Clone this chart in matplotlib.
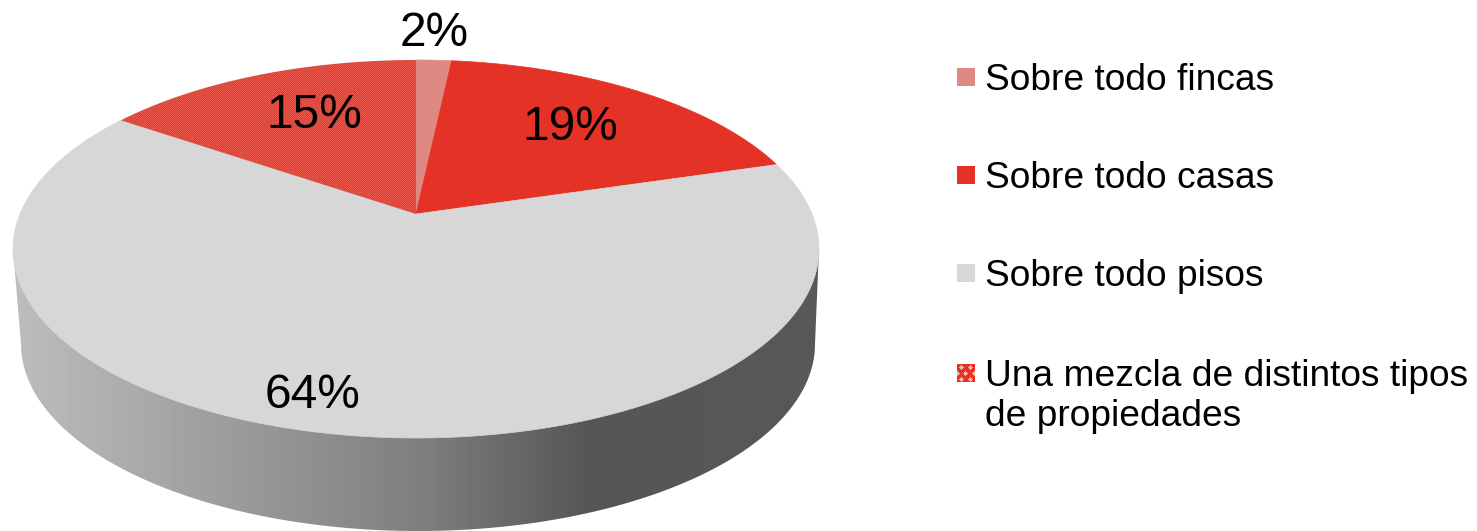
import numpy as np
import matplotlib
matplotlib.use("Agg")
import matplotlib.pyplot as plt
from matplotlib.patches import Polygon, Rectangle

plt.rcParams['font.family'] = ['Liberation Sans', 'DejaVu Sans']

categories = ["Sobre todo fincas", "Sobre todo casas", "Sobre todo pisos",
              "Una mezcla de distintos tipos\nde propiedades"]
values = [1.7, 18.7, 64.2, 15.4]
colors = ["#de8a82", "#e43226", "#d7d7d7", None]
label_xy = [(434, 33), (570, 128), (313, 395), (314, 116)]
legend_y = [77, 175, 273, 373]

W, H = 1477, 531
fig = plt.figure(figsize=(W / 100, H / 100), dpi=100)
ax = fig.add_axes([0, 0, 1, 1])
ax.set_xlim(0, W)
ax.set_ylim(H, 0)
ax.axis("off")

# perspective pie geometry (screen pixels)
cx, apex_y = 416, 214
back, front = 154, 224
rx = 403
k = (front - back) / (front + back)
a = 2 * back * front / (front + back)
b = rx * np.sqrt(1 - k ** 2)


def project(theta):
    x, y = np.sin(theta), np.cos(theta)
    w = 1 + k * y
    return cx + b * x / w, apex_y - a * y / w


# side wall
top_cy = 249
bot_cx, bot_cy, bot_rx, bot_ry = 418, 344, 397, 187
t = np.linspace(np.pi, 0, 300)
bx = bot_cx + bot_rx * np.cos(t)
by = bot_cy + bot_ry * np.sin(t)
side = np.vstack([[13, top_cy], np.column_stack([bx, by]), [819, top_cy]])
side_patch = Polygon(side, closed=True, transform=ax.transData, fc="none", ec="none")
ax.add_patch(side_patch)
xs = np.arange(W) + 0.5
grad = np.interp(xs, [13, 416, 590, 819], [0.74, 0.50, 0.335, 0.345])
im = ax.imshow(np.tile(grad, (H, 1)), cmap="gray", vmin=0, vmax=1,
               extent=(0, W, H, 0), aspect="auto", interpolation="nearest", zorder=1)
im.set_clip_path(side_patch)

# dithered fill for the last slice
yy, xx = np.mgrid[0:H, 0:W]
dither = np.zeros((H, W, 3))
dither[...] = np.array([0.89, 0.24, 0.18])
mask = (xx + yy) % 2 == 0
dither[mask] = np.array([0.91, 0.33, 0.28])
dither[((xx % 16 == 0) | (yy % 16 == 0)) & mask] = np.array([0.92, 0.37, 0.32])

# top face slices
cum = np.cumsum([0] + values) / sum(values) * 2 * np.pi
for i, v in enumerate(values):
    th = np.linspace(cum[i], cum[i + 1], 200)
    px, py = project(th)
    pts = np.vstack([[cx, apex_y], np.column_stack([px, py])])
    if colors[i] is not None:
        ax.add_patch(Polygon(pts, closed=True, fc=colors[i], ec=colors[i], lw=0.5, zorder=2))
    else:
        p = Polygon(pts, closed=True, fc="none", ec="none", zorder=2)
        ax.add_patch(p)
        img = ax.imshow(dither, extent=(0, W, H, 0), aspect="auto",
                        interpolation="nearest", zorder=2)
        img.set_clip_path(p)
    ax.text(*label_xy[i], f"{round(v)}%", fontsize=34.5, ha="center", va="center",
            color="black", zorder=4)

# legend
size = 18
dots = np.zeros((size, size, 3))
dots[...] = np.array([0.90, 0.20, 0.15])
for r in range(size):
    for c in range(size):
        for (dr, dc) in [(3, 4), (3, 13), (9, 8), (9, 0), (9, 17), (15, 4), (15, 13)]:
            d = np.hypot(r - dr, c - dc)
            if d < 2.2:
                dots[r, c] = np.array([0.97, 0.72, 0.68])
for i, (lab, y) in enumerate(zip(categories, legend_y)):
    if colors[i] is not None:
        ax.add_patch(Rectangle((957, y - 9), size, size, fc=colors[i], ec="none", zorder=3))
    else:
        ax.imshow(dots, extent=(957, 957 + size, y + 9, y - 9), aspect="auto",
                  interpolation="bilinear", zorder=3)
    ax.text(985, y - 14, lab, fontsize=26.7, ha="left", va="top", color="black",
            linespacing=1.18, zorder=4)

ax.set_xlim(0, W)
ax.set_ylim(H, 0)
fig.savefig("out.png", dpi=100, facecolor="white")
